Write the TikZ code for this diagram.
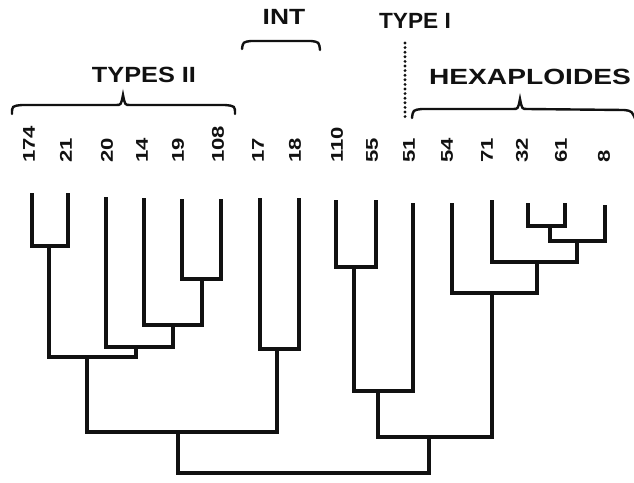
\documentclass[tikz,border=0pt]{standalone}
\usepackage{fontspec}
\setmainfont{Liberation Sans}
\usepackage{graphicx}
\usetikzlibrary{positioning}
\usepackage{xcolor}
\definecolor{ink}{HTML}{111111}
\tikzset{
  leaflbl/.style={rotate=90,anchor=west,inner sep=0pt,text=ink,font=\fontsize{17}{17}\selectfont\bfseries},
  grplbl/.style={inner sep=0pt,text=ink,font=\fontsize{22}{22}\selectfont\bfseries},
  branch/.style={draw=ink,line width=3.2pt},
  brc/.style={draw=ink,line width=2.4pt,line cap=round},
  dotline/.style={draw=ink,line width=3.2pt,line cap=round,dash pattern=on 0pt off 4.6pt}
}

\begin{document}
\begin{tikzpicture}[x=1pt,y=-1pt]
\useasboundingbox (0,0) rectangle (634,482);

% group titles
\node[grplbl] (types2) at (144,75) {\scalebox{1.15}[1]{TYPES II}};
\node[grplbl] (int) at (284,17) {\scalebox{1.2}[1]{INT}};
\node[grplbl] (type1) at (415,21) {\scalebox{1.03}[1]{TYPE I}};
\node[grplbl] (hexa) at (530,77) {\scalebox{1.28}[1]{HEXAPLOIDES}};

% braces
\draw[brc] (12,114) .. controls (12,106) .. (22,105) -- (116,105)
  .. controls (121,105) .. (123,95) .. controls (125,105) .. (130,105)
  -- (225,105) .. controls (235,106) .. (235,114);
\draw[brc] (242,49) .. controls (243,42) .. (251,41) -- (311,41)
  .. controls (319,42) .. (320,50);
\draw[brc] (412,118) .. controls (413,110) .. (422,109) -- (513,109)
  .. controls (518,109) .. (520,99) .. controls (522,109) .. (527,109)
  -- (624,110) .. controls (632,111) .. (636,121);
\coordinate (dtop) at (405,43);
\coordinate (dbot) at (405,120);
\draw[dotline] (dtop) -- (dbot);

% leaves
\foreach \lbl/\lx/\tx/\ty in {174/29/32/193,21/66/68/193,20/107/106/197,
    14/142/144/198,19/178/182/199,108/218/221/199,17/258/260/198,
    18/295/299/198,110/337/336/200,55/372/376/200,51/409/413/203,
    54/447/452/203,71/487/492/200,32/522/528/203,61/561/565/203,8/604/605/205}{
  \node[leaflbl] (n\lbl) at (\lx,163) {\scalebox{1.3}[1]{\lbl}};
  \coordinate (t\lbl) at (\tx,\ty);
}

% merge points
\coordinate (a1) at (49,246);
\coordinate (a2) at (202,279);
\coordinate (a3) at (173,325);
\coordinate (a4) at (136,347);
\coordinate (a5) at (87,357);
\coordinate (b1) at (277,349);
\coordinate (a6) at (178,432);
\coordinate (c1) at (354,267);
\coordinate (c2) at (378,391);
\coordinate (h1) at (550,226);
\coordinate (h2) at (577,241);
\coordinate (h3) at (537,262);
\coordinate (h4) at (492,293);
\coordinate (c3) at (429,437);
\coordinate (root) at (300,473);

\draw[branch] (t174) |- (a1) -| (t21);
\draw[branch] (t19) |- (a2) -| (t108);
\draw[branch] (t14) |- (a3) -| (a2);
\draw[branch] (t20) |- (a4) -| (a3);
\draw[branch] (a1) |- (a5) -| (a4);
\draw[branch] (t17) |- (b1) -| (t18);
\draw[branch] (a5) |- (a6) -| (b1);
\draw[branch] (t110) |- (c1) -| (t55);
\draw[branch] (c1) |- (c2) -| (t51);
\draw[branch] (t32) |- (h1) -| (t61);
\draw[branch] (h1) |- (h2) -| (t8);
\draw[branch] (t71) |- (h3) -| (h2);
\draw[branch] (t54) |- (h4) -| (h3);
\draw[branch] (c2) |- (c3) -| (h4);
\draw[branch] (a6) |- (root) -| (c3);
\end{tikzpicture}
\end{document}
